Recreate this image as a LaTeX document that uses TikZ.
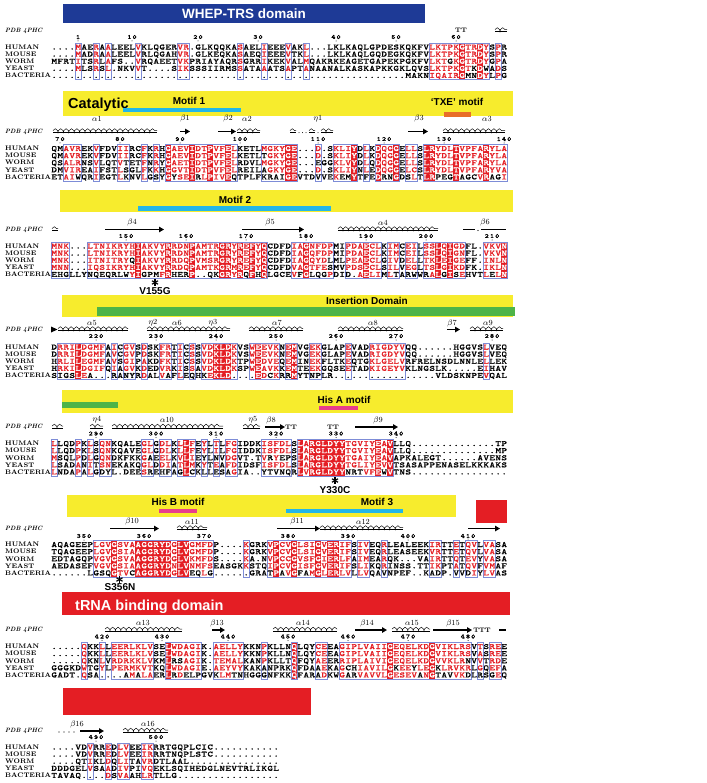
\documentclass[tikz,border=0pt]{standalone}
\usepackage{fontspec}
\setsansfont{Liberation Sans}
\newfontfamily\seqfont{Latin Modern Mono}[FakeStretch=1.32,FakeBold=1.2]
\newfontfamily\numfont{Latin Modern Mono}[FakeStretch=1.2,FakeBold=2,LetterSpace=20]
\usetikzlibrary{decorations.pathmorphing,arrows.meta}
\definecolor{esred}{RGB}{228,30,36}
\definecolor{frblue}{RGB}{125,140,215}
\definecolor{whepblue}{RGB}{30,58,150}
\definecolor{dyellow}{RGB}{247,236,45}
\definecolor{dcyan}{RGB}{35,182,232}
\definecolor{dorange}{RGB}{232,110,40}
\definecolor{dgreen}{RGB}{78,180,72}
\definecolor{dpink}{RGB}{232,62,140}
\makeatletter
\newcount\sq@col
\newcommand\seqline[2]{\def\sq@blk{#1}\sq@col=\z@\sq@next#2\relax}
\def\sq@next#1{\ifx#1\relax\expandafter\@gobble\else\expandafter\@firstofone\fi{\sq@char#1\sq@next}}
\def\sq@char#1{\advance\sq@col\@ne
  \ifcsname fl@\sq@blk @\the\sq@col\endcsname
    \sq@box{\color{white}\uppercase{#1}}%
  \else
    \ifcsname fr@\sq@blk @\the\sq@col\endcsname
      \ifnum`#1>96 \sq@box{\uppercase{#1}}\else\ifnum`#1<65 \sq@box{#1}\else\sq@box{\color{esred}#1}\fi\fi
    \else
      \sq@box{\uppercase{#1}}%
    \fi
  \fi}
\def\sq@box#1{\makebox[6pt]{#1}}
\makeatother
\newcommand\bfills[3]{%
  \foreach \fc in {#3}{%
    \expandafter\gdef\csname fl@#1@\fc\endcsname{}%
    \fill[esred] ({48+6*\fc-3},{#2-4}) rectangle ({48+6*\fc+3},{#2+32.4});}}
\newcommand\bframes[3]{%
  \foreach \fa/\fb in {#3}{%
    \foreach \fc in {\fa,...,\fb}{\expandafter\gdef\csname fr@#1@\fc\endcsname{}}%
    \draw[fr] ({48+6*\fa-3},{#2-4}) rectangle ({48+6*\fb+3},{#2+32.4});}}
\newcommand\seqrows[7]{%
  \node[lab] (L#1a) at (5,{#2}) {HUMAN};
  \node[lab] (L#1b) at (5,{#2+7.1}) {MOUSE};
  \node[lab] (L#1c) at (5,{#2+14.2}) {WORM};
  \node[lab] (L#1d) at (5,{#2+21.3}) {YEAST};
  \node[lab] (L#1e) at (5,{#2+28.4}) {BACTERIA};
  \node[seqrow] (S#1a) at (51,{#2}) {\seqline{#1}{#3}};
  \node[seqrow] (S#1b) at (51,{#2+7.1}) {\seqline{#1}{#4}};
  \node[seqrow] (S#1c) at (51,{#2+14.2}) {\seqline{#1}{#5}};
  \node[seqrow] (S#1d) at (51,{#2+21.3}) {\seqline{#1}{#6}};
  \node[seqrow] (S#1e) at (51,{#2+28.4}) {\seqline{#1}{#7}};}
\newcommand\nums[2]{\foreach \nn/\nc in {#2}{\node[numl] (N\nn) at ({48+6*\nc},#1) {\nn};
  \fill ({48+6*\nc},{#1+4}) circle (0.5);}}
\newcommand\sslab[3]{\foreach \tt/\xx [count=\ii] in {#3}{\node[ssl] (ss#1-\ii) at (\xx,#2) {\tt};}}
\newcommand\hx[3]{\draw[helixc] (#1,{#3-0.9}) -- (#2,{#3-0.9});
  \draw[hbase] (#1,{#3+1.1}) -- (#2,{#3+1.1});}
\newcommand\mstarat[2]{\foreach \ang in {90,30,-30}{\draw[line width=1.15pt] ({#1+3.5*cos(\ang)},{#2-3.5*sin(\ang)}) -- ({#1-3.5*cos(\ang)},{#2+3.5*sin(\ang)});}}
\newcommand\GA{$\alpha$}
\newcommand\GB{$\beta$}
\newcommand\GE{$\eta$}
\tikzset{
 lab/.style={anchor=west,inner sep=0pt,text height=4.6pt,text depth=0pt,font=\fontsize{6.6}{7}\selectfont\bfseries},
 pdb/.style={anchor=west,inner sep=0pt,font=\fontsize{6.2}{7}\selectfont\bfseries\itshape},
 seqrow/.style={anchor=west,inner sep=0pt,text height=5pt,text depth=0pt,font=\seqfont\fontsize{8}{8}\selectfont},
 numl/.style={inner sep=0pt,font=\numfont\fontsize{6.3}{6.5}\selectfont},
 ssl/.style={inner sep=0pt,font=\fontsize{7.8}{8}\selectfont},
 ttl/.style={inner sep=0pt,font=\fontsize{6.5}{7}\selectfont\bfseries},
 fr/.style={draw=frblue,line width=0.5pt},
 helixc/.style={decorate,decoration={coil,aspect=0.5,segment length=5.4pt,amplitude=1.9pt},line width=0.45pt},
 hbase/.style={line width=0.45pt},
 strand/.style={line width=1.4pt,-{Triangle[length=5pt,width=5.5pt]}},
 thickl/.style={line width=1.4pt},
 dom/.style={inner sep=0pt,anchor=base,font=\sffamily\bfseries\fontsize{10}{10}\selectfont},
 bigt/.style={inner sep=0pt,font=\sffamily\bfseries\fontsize{14.5}{14.5}\selectfont},
 mut/.style={inner sep=0pt,anchor=base,font=\sffamily\bfseries\fontsize{10}{10}\selectfont}
}
\begin{document}
\begin{tikzpicture}[x=1pt,y=-1pt]
\useasboundingbox (0,0) rectangle (706,783);
\fill[white] (0,0) rectangle (706,783);
% ---------------- Block 1
\fill[whepblue] (63,4) rectangle (425,22.7);
\node[bigt,anchor=base,text=white,font=\sffamily\bfseries\fontsize{13.5}{13.5}\selectfont] (whep) at (244,19) {WHEP-TRS domain};
\node[pdb] (pdb1) at (5,30.5) {PDB 4PHC};
\node[ttl] (tt1) at (461,30) {TT};
\hx{495}{507}{30.5}
\nums{37}{1/5,10/14,20/25,30/35,40/48,50/58,60/68}
\bfills{1}{47}{69,72}
\bframes{1}{47}{5/5,8/8,10/10,15/15,22/23,32/32,36/36,40/40,43/43,64/73,75/75}
\seqrows{1}{47}{....MAERAA LEELVKLQGE RVR.GLKQQK ASAELIEEEV AKL...LKLK AQLGPDESKQ KFVLKTPKGT RDYSPR}
{....MADRAA LEELVRLQGA HVR.GLKEQK ASAEQIEEEV TKL...LKLK AQLGQDEGKQ KFVLKTPKGT RDYSPR}
{MFRTITSRLA FS..VRQAEE TVKPRIAYAQ RSGRRIKEKV ALMQAKRKEA GETGAPEKPG KFVLKTgKGT RDYGPA}
{....MLSRSL .NKVVT.... SIKSSSIIRM SSATAAATSA PTANAANALK ASKAPKKGKL QVSLKTPKGT kDwADS}
{.......... .......... .......... .......... .......... .........M AKNIQAIRGm nDYLPG}
% ---------------- Block 2
\fill[dyellow] (63,91) rectangle (513,116);
\node[bigt,anchor=base west] (cat) at (68,108.5) {Catalytic};
\node[dom] (m1) at (189,104.5) {Motif 1};
\fill[dcyan] (123,107.7) rectangle (241,111.7);
\node[dom] (txe) at (457,105.5) {`TXE' motif};
\fill[dorange] (444,112.3) rectangle (471,116.7);
\sslab{2}{118.5}{\GA1/97,\GB1/185,\GB2/228,\GA2/247,\GE1/318,\GB3/419,\GA3/487}
\node[pdb] (pdb2) at (5,131.5) {PDB 4PHC};
\hx{53}{157}{131.5}
\draw[strand] (180,131.5) -- (190,131.5);
\draw[strand] (218,131.5) -- (236,131.5);
\hx{237}{260}{131.5}
\hx{290}{296}{131.5}
\foreach \dx in {299,302.5,306} \fill (\dx,132.6) circle (0.5);
\hx{309}{315}{131.5}
\fill (318,132.6) circle (0.5);
\hx{321}{333}{131.5}
\draw[strand] (408,131.5) -- (428,131.5);
\hx{443}{505}{131.5}
\nums{139}{70/2,80/12,90/22,100/32,110/45,120/56,130/66,140/76}
\bfills{2}{148.5}{20,24,27,30,40,41,51,55,58,63,64,68,73}
\bframes{2}{148.5}{3/5,8/8,12/13,16/16,18/18,20/31,36/41,45/45,48/51,53/53,55/58,60/61,63/76}
\seqrows{2}{148.5}{QMAVREKVFD VIIRCFKRHG AEVIDTPVFE LKETLMGKYG E...D.SKLI YDLKDQGGEL LSLRYDLTVP FARYLA}
{QMAVREKVFD VIIRCFKRHG AEVIDTPVFE LKETLtGKYG E...D.SKLI YDLKDQGGEL LSLRYDLTVP FARYLA}
{QSALRNSVLQ TVtETFNRYG AETIDTPVFE LRDVLMGKYG E...eGGKLV YDLQDQGGEL LSLRYDLTVP FARYLA}
{DMVIREAIFS TLsGLFKKHG GVTIDTPVFE LREILaGKYG E...D.SKLI YNLEDQGGEL CSLRYDLTVP FARYVA}
{ETAIwQRIEG TLkNVLGsYG ySEIrLPIVE qTPLFkraiG EVTDvVEKem YTfEDrnGDs LTLRpegTag cVRagI}
% ---------------- Block 3
\fill[dyellow] (60,190) rectangle (513,212.3);
\node[dom] (m2) at (235,204) {Motif 2};
\fill[dcyan] (138,206) rectangle (331,210.7);
\sslab{3}{223}{\GB4/132,\GB5/270,\GA4/383,\GB6/485}
\node[pdb] (pdb3) at (5,229.5) {PDB 4PHC};
\hx{52}{58}{229.5}
\draw[strand] (105,229.5) -- (164,229.5);
\draw[strand] (242,229.5) -- (304,229.5);
\hx{338}{438}{229.5}
\draw[thickl] (463,229.5) -- (475,229.5);
\fill (478,230.5) circle (0.6);
\draw[thickl] (481,229.5) -- (506,229.5);
\nums{236}{150/13,160/23,170/33,180/43,190/53,200/63,210/74}
\bfills{3}{246}{15,20,24,29,30,32,34,36,43,53,65,67,76}
\bframes{3}{246}{1/3,7/36,41/47,50/55,57/58,60/61,63/69,73/76}
\seqrows{3}{246}{MNK...LTNI KRYHIAKVYR RDNPAMTRGR YREFYQCDFD IAGNFDPMIP DAECLKIMCE ILSSLQIGDF L.VKVN}
{MNK...LTNI KRYHIAKVYR RDNPAMTRGR YREFYQCDFD IAGQFDPMIP DAECLKIMCE ILSSLQIGNF L.VKVN}
{MNK...ITNI TRYqIAKVYR RDQPVMSRGR YREFYQCDFD IAGQYDlMLP EAECLGIVDE LLTKLEIGEF F.INLN}
{MNN...IQSI KRYHIAKVYR RDQPAMTKGR MREFYQCDFD VAGTFEsMVP DSECLSILVE GLTSLGIKDF K.IKLN}
{ehgLLYnqeq rlwYIgpmFR herP..qkGR YRqFhQLGCE VfGlqgPDId .AELImLtAr wWrALgIsEH VTLeLN}
\mstarat{155}{282.5}
\node[mut] (v155) at (155,294.5) {V155G};
% ---------------- Block 4
\fill[dyellow] (62,295) rectangle (513,316.7);
\fill[dgreen] (97,306.7) rectangle (515,315.7);
\node[dom] (ins) at (367,304.3) {Insertion Domain};
\sslab{4}{323}{\GA5/92,\GE2/153,\GA6/177,\GE3/213,\GA7/277,\GA8/373,\GB7/452,\GA9/488}
\node[pdb] (pdb4) at (5,329.5) {PDB 4PHC};
\fill (51,326.5) -- (57.5,329.5) -- (51,332.5) -- cycle;
\hx{58}{128}{329.5}
\hx{147}{230}{329.5}
\hx{249}{303}{329.5}
\hx{338}{403}{329.5}
\draw[strand] (447,329.5) -- (460,329.5);
\hx{470}{503}{329.5}
\nums{336}{220/8,230/18,240/28,250/38,260/48,270/58,280/74}
\bfills{4}{347}{5,28,29,30,35,41}
\bframes{4}{347}{2/9,11/11,13/14,16/16,19/20,22/22,24/24,26/31,34/38,40/41,44/45,50/50,54/59,73/73}
\seqrows{4}{347}{DRRILDGMFA ICGVSDSKFR TICSSVDKLD KVSWEEVKNE MVGEKGLAPE VADRIGDYVQ Q......HGG VSLVEQ}
{DRRILDGMFA VCGVPDSKFR TICSSVDKLD KVSWEEVKNE MVGEKGLAPE VADRIGDYVQ Q......HGG VSLVEQ}
{HRLILEGMFA VSGIPAKDFK TICSSVDKLD KTPWEDVEQE MINEKFLTKE QTGKLGELVR FRELNSDLNN LELLEK}
{HRKILDGIFQ IAGVKDEDVR KISSAVDKLD KSPWEAVKKE MTEEKGQSEE TADKIGEYVK LNGSLK.... .EIHAV}
{SigsLEa... rAnyRDALVa FLEqHkEKLD ....EDcKRr MYTnpLR... .......... ....VLDSKN PEVQAL}
% ---------------- Block 5
\fill[dyellow] (62,390) rectangle (513,413.3);
\fill[dgreen] (62,401.7) rectangle (118,408.3);
\node[dom] (hisa) at (344,403.3) {His A motif};
\fill[dpink] (319,406) rectangle (358,410);
\sslab{5}{420}{\GE4/97,\GA10/167,\GE5/253,\GB8/271,\GB9/378}
\node[pdb] (pdb5) at (5,427) {PDB 4PHC};
\hx{52}{63}{427}
\hx{90}{103}{427}
\hx{112}{223}{427}
\hx{243}{260}{427}
\draw[strand] (265,427) -- (285,427);
\node[ttl] (tt2) at (291,427) {TT};
\node[ttl] (tt3) at (333,427) {TT};
\draw[strand] (355,427) -- (398,427);
\nums{433.5}{290/8,300/18,310/28,320/38,330/48,340/58}
\bfills{5}{443.5}{23,42,44,45,46,47,48,49,55,57}
\bframes{5}{443.5}{1/1,5/5,7/7,9/10,16/17,19/20,22/24,26/26,28/28,30/31,36/40,42/57}
\seqrows{5}{443.5}{LLQDPKLSQN KQALEGLGDL KLLFEYLTLF GIDDKISFDL SLARGLDYYT GVIYEAVLLQ .......... ....TP}
{LLQDPKLSQN KQAVEGLGDL KLLFEYLILF GIDDKISFDL SLARGLDYYT GVIYEAVLLQ .......... ....MP}
{MSQLPDLGQN DKFKKGaEEL KVLIEyLnVD GVT.TVrYep SLARGLDYYT GAIYEAVAPK ALEGT..... .AVENS}
{LSADANITSN EKAKQGLDDI ATLMKYTEAF DIDSFISFDL SLARGLDYYT GLIYEVVTSA SAPPENASEL KKKAKS}
{LNDAPALGdy L.DEESrehf AgLcKlLeSa GIA..ytvnq RLVRGLDYYn rtVFEwVTNS .......... ......}
\mstarat{335}{480.5}
\node[mut] (y330) at (335,493.5) {Y330C};
% ---------------- Block 6
\fill[dyellow] (67,495) rectangle (456,516.7);
\node[dom] (hisb) at (178,505.7) {His B motif};
\fill[dpink] (159,509) rectangle (197,513);
\node[dom] (m3) at (377,505.7) {Motif 3};
\fill[dcyan] (286,509) rectangle (403,513);
\fill[esred] (476,500) rectangle (507,523.3);
\sslab{6}{521.5}{\GB10/132,\GA11/192,\GB11/297,\GA12/363}
\node[pdb] (pdb6) at (5,528.5) {PDB 4PHC};
\draw[strand] (110,528.5) -- (159,528.5);
\hx{177}{207}{528.5}
\draw[strand] (277,528.5) -- (320,528.5);
\hx{320}{403}{528.5}
\draw[strand] (468,528.5) -- (500,528.5);
\nums{536}{350/6,360/16,370/26,380/40,390/50,400/60,410/70}
\bfills{6}{544.5}{11,15,16,17,18,19,20,22,23,38,41,45,47,48}
\bframes{6}{544.5}{8/27,33/33,37/50,52/53,56/56,64/65,68/68,70/71,73/74}
\seqrows{6}{544.5}{AQAGEEPLGV GSVAAGGRYD GLVGMFDP.. ..KGRKVPCV GLSIGVERIF SIVEQRLEAL EEKIRTTETQ VLVASA}
{TQAGEEPLGV GSIAAGGRYD GLVGMFDP.. ..KGRKVPCV GLSIGVERIF SIVEQRLEAS EEKVRTTETQ VLVASA}
{EDTAGQPVGV GSVAAGGRYD GLVKMFDS.. ..KA.NVPCC GVSFGIERLF AIMEARQK.. .VAIRTTQTE VYVASA}
{AEDASEFVGV GSIAAGGRYD NLVNMFSEAS GKKSTQIPCV GISFGVERIF SLIKQRINSS .TTIKPTATQ VFVMAF}
{......Lgsq GTVcAGGRYD GLVeqLg... ...GRAtPaV GfaMGLERLV LLVQAvNPEF ..KadP.vVd IYLVAS}
\mstarat{119.5}{579.5}
\node[mut] (s356) at (120,590) {S356N};
% ---------------- Block 7
\fill[esred] (62,592) rectangle (510,615.3);
\node[bigt,anchor=base west,text=white] (trna) at (75,610.3) {tRNA binding domain};
\sslab{7}{623}{\GA13/143,\GB13/217,\GA14/303,\GB14/367,\GA15/412,\GB15/453}
\node[pdb] (pdb7) at (5,630) {PDB 4PHC};
\hx{105}{182}{630}
\draw[strand] (212,630) -- (225,630);
\hx{273}{337}{630}
\draw[strand] (355,630) -- (387,630);
\hx{392}{430}{630}
\draw[strand] (433,630) -- (472,630);
\node[ttl] (tt4) at (482,630) {TTT};
\draw[thickl] (499,630) -- (506,630);
\nums{636.5}{420/9,430/19,440/30,450/40,460/50,470/60,480/70}
\bfills{7}{646.5}{20,41,57,64}
\bframes{7}{646.5}{6/6,9/9,11/17,20/25,28/32,36/36,41/41,45/46,49/70,72/72,74/75}
\seqrows{7}{646.5}{.....QKKLL EERLKLVSEL WDAGIK.AEL LYKKNPKLLN QLQYCEEAGI PLVAIIGEQE LKDGVIKLRS VTSREE}
{.....QKKLL EERLKLVSEL WDAGIK.AEL LYKKNPKLLN QLQYCEEAGI PLVAIIGEQE LKDGVIKLRS VASREE}
{.....QKNLV RDRKKLVKML rsAGIK.TEM ALKANPKLLT QFQYAEErRI PLAIVIGEQE LKDGVVKLRn VVTRDE}
{GGGKDWTGYL PERMKVTKQL WDAGIE.AEY VYKAKaNPRK QFDAaEKAGc hIAVILGkEE yLEGkLRVKR LGQEFA}
{GADT.QSA.. ..aMaLAERL rDelpGVkLM tnHGGgNFKK QFARaDKWGa rVAVVLGESE VaNGtavVKd LrSgEQ}
% ---------------- Block 8
\fill[esred] (63,688) rectangle (311,715);
\sslab{8}{724}{\GB16/77,\GA16/148}
\node[pdb] (pdb8) at (5,731) {PDB 4PHC};
\foreach \dx in {59,64,69,74} \fill (\dx,732) circle (0.7);
\draw[strand] (80,731) -- (104,731);
\hx{123}{168}{731}
\nums{737}{490/8,500/18}
\bframes{8}{747}{7/7,10/10,12/13,16/17}
\seqrows{8}{747}{....VDVRRE DLVEEIKRRT GQPLCIC... ........}
{....VDVRRE DLVEEIRRRT NQPLSTC... ........}
{....QTIKLD QLITAVRDTL AAL....... ........}
{DDDGELVSAA DIVPIVQEKL SQIHEDGLNE VTRLIKGL}
{TAVAQ....D SVAAHLRTLL G......... ........}
\end{tikzpicture}
\end{document}
